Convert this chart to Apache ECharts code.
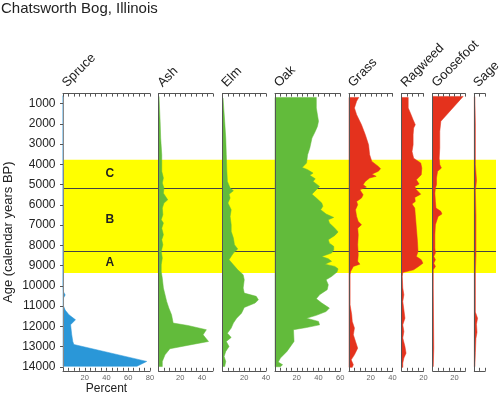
<!DOCTYPE html>
<html><head><meta charset="utf-8">
<script src="https://cdn.jsdelivr.net/npm/echarts@6/dist/echarts.min.js"></script>
<style>html,body{margin:0;padding:0;background:#fff}#c{width:500px;height:393px}</style>
</head><body><div id="c"></div>
<script>
// ---------- data ----------
const chartTitle = 'Chatsworth Bog, Illinois';
const yAxisName = 'Age (calendar years BP)';
const xAxisName = 'Percent';
const ageTicks = [1000,2000,3000,4000,5000,6000,7000,8000,9000,10000,11000,12000,13000,14000];
const ageMin = 500, ageMax = 14200;

const zoneLabels = ['C', 'B', 'A'];
const zoneTops = [3770, 5170, 8300];
const zoneBottoms = [5170, 8300, 9370];

const taxa = ['Spruce', 'Ash', 'Elm', 'Oak', 'Grass', 'Ragweed', 'Goosefoot', 'Sage'];
const taxonMax = [80, 50, 40, 60, 40, 20, 30, 10];

const spruceAges = [600, 10000, 10300, 10450, 10600, 11000, 11200, 11430, 11680, 11920, 12400, 12750, 12900, 13735, 13980];
const spruceValues = [0, 0, 0.5, 2, 0.5, 0.5, 2, 5.5, 11.5, 7, 8, 9, 10, 77, 68];

const ashAges = [640, 1870, 2700, 3520, 4340, 4670, 4920, 5170, 5420, 5750, 5910, 6160, 6490, 6730, 6900, 7150, 7480, 7720, 7970, 8300, 8630, 8960, 9290, 9620, 10110, 10770, 11100, 11430, 11840, 11960, 12170, 12420, 12750, 12910, 13110, 13410, 13740, 13990];
const ashValues = [0.5, 1.5, 2, 3, 3, 4.5, 3.5, 5, 4.5, 8.5, 5, 3.5, 4, 2.5, 4.5, 3, 4.5, 3, 4, 2.5, 3.5, 2.5, 2.5, 3.5, 4.5, 7.5, 9.5, 12, 13.5, 27, 44, 41, 46, 30, 10.5, 6, 3.5, 3.5];

const elmAges = [720, 1870, 2700, 3520, 4340, 4840, 5170, 5300, 5470, 5660, 5910, 6240, 6570, 6980, 7310, 7640, 7970, 8180, 8380, 8710, 8960, 9210, 9450, 9700, 10110, 10360, 10520, 10690, 10850, 11070, 11350, 11600, 11840, 12090, 12340, 12550, 12750, 13000, 13240, 13490, 13740, 13990];
const elmValues = [0.5, 2, 3, 3.5, 4, 4.5, 7, 10, 6, 7, 5, 8, 7, 8, 8, 10, 11, 14, 10, 6, 10, 14, 19, 20, 19, 20, 31, 33, 30, 20, 17.5, 13, 10, 8, 4.5, 8, 3.5, 6, 3, 1.5, 3, 2];

const oakAges = [690, 1210, 1870, 2120, 2370, 2700, 3190, 3520, 3930, 4150, 4260, 4430, 4540, 4710, 4840, 5090, 5250, 5470, 5660, 5910, 6070, 6240, 6450, 6620, 6730, 6900, 7150, 7340, 7510, 7720, 7890, 8050, 8220, 8380, 8550, 8660, 8790, 8930, 9040, 9160, 9320, 9540, 9700, 9950, 10190, 10440, 10640, 10850, 11100, 11270, 11460, 11600, 11760, 11930, 12060, 12170, 12750, 13240, 13570, 13770, 13900, 14000];
const oakValues = [38, 38, 40, 39, 37, 34, 32, 30, 29, 25, 30, 35, 32, 37, 35, 41, 38, 34, 38, 43, 44, 42, 47, 54, 49, 50, 55, 58, 55, 49, 50, 54, 54, 52, 43, 49, 52, 46, 55, 58, 57, 52, 47, 49, 48, 41, 38, 43, 50, 47, 38, 29, 40, 41, 29, 17, 17.5, 11, 5, 3, 7, 5];

const grassAges = [690, 880, 1210, 1540, 2040, 2530, 3030, 3520, 3850, 4100, 4210, 4340, 4480, 4590, 4670, 4840, 5000, 5120, 5250, 5500, 5660, 5830, 5990, 6240, 6570, 6820, 6980, 7150, 7480, 7970, 8460, 8790, 8930, 9040, 9290, 9450, 10110, 10940, 11430, 11760, 12090, 12420, 12750, 13080, 13410, 13660, 13900, 14030];
const grassValues = [9, 7, 5, 7, 11.5, 15, 18, 19, 21, 27, 29, 27, 21, 25, 19, 15, 13, 16, 10, 13, 11.5, 7, 8, 6, 7, 8.5, 11.5, 8, 8.5, 8, 8.5, 8, 10, 4, 1.5, 1, 1, 1, 2.5, 3, 5, 4, 6, 8, 5, 2, 4, 3];

const ragweedAges = [690, 1210, 1460, 1790, 2040, 2200, 2530, 3030, 3360, 3690, 3930, 4180, 4510, 4760, 4970, 5090, 5250, 5470, 5630, 5830, 5960, 6160, 6490, 7150, 7810, 8300, 8550, 8710, 8880, 9040, 9210, 9340, 9540, 10110, 10440, 10770, 11600, 11930, 12260, 12580, 13000, 13330, 13570, 13820, 14030];
const ragweedValues = [6, 6, 8, 10.5, 12.5, 11, 10.5, 10.5, 9.5, 11, 17.5, 18.5, 18, 13.5, 16, 12, 13.5, 17.5, 12, 12.5, 9.5, 12, 12.5, 13.5, 14.5, 15, 13.5, 18, 19.5, 15.5, 11, 1, 0.5, 1, 2, 1, 3, 1, 2, 1, 3, 4, 2, 1, 1];

const goosefootAges = [640, 1870, 2370, 3190, 3690, 4010, 4180, 4340, 4670, 5000, 5170, 5420, 5830, 6160, 6320, 6450, 6570, 6980, 7480, 8130, 8380, 8550, 8710, 8880, 9040, 9210, 10110, 13080, 13990];
const goosefootValues = [28, 7.5, 6.5, 6.5, 6, 6.5, 8, 4.5, 3.5, 3.5, 2.5, 2, 2.5, 3, 7.5, 8.5, 5, 2.5, 2, 2, 2.5, 1, 2.5, 1, 2.5, 0.5, 0.5, 1, 0.5];

const sageAges = [650, 2000, 4000, 4800, 5300, 6500, 8500, 9300, 10500, 11300, 11600, 11900, 12300, 12600, 13300, 14000];
const sageValues = [0.5, 1, 1, 2, 1, 1.5, 1.5, 1, 1, 1, 3, 2, 2.5, 1.5, 1, 0.5];

const taxonAges = [spruceAges, ashAges, elmAges, oakAges, grassAges, ragweedAges, goosefootAges, sageAges];
const taxonValues = [spruceValues, ashValues, elmValues, oakValues, grassValues, ragweedValues, goosefootValues, sageValues];

// ---------- layout & style ----------
const FONT = '"Liberation Sans", Arial, Helvetica, sans-serif';
const BLUE = '#2a97d8', GREEN = '#62bb3b', RED = '#e4321d', YELLOW = '#ffff00';
const taxonColors = [BLUE, GREEN, GREEN, GREEN, RED, RED, RED, RED];
const panelLefts = [63, 158.5, 222.5, 275, 349, 401.7, 432.7, 474.3];
const PX_PER_PCT = 1.0875;
const GRID_TOP = 93.6, GRID_H = 277.2;
const AXIS_COLOR = '#555';
const labelPct = 43;

const grids = [], xAxes = [], yAxes = [], series = [];

taxa.forEach((name, i) => {
  const w = taxonMax[i] * PX_PER_PCT;
  grids.push({ left: panelLefts[i], top: GRID_TOP, width: w, height: GRID_H, containLabel: false, outerBoundsMode: 'none' });
  const xBase = {
    gridIndex: i, type: 'value', min: 0, max: taxonMax[i], interval: 5, z: 3,
    axisLine: { show: true, lineStyle: { color: AXIS_COLOR, width: 1 } },
    axisTick: { show: true, inside: true, length: 3, lineStyle: { color: AXIS_COLOR, width: 1 } },
    splitLine: { show: false }
  };
  xAxes.push(Object.assign({}, xBase, {
    position: 'bottom',
    axisLabel: { show: true, fontSize: 7.5, color: '#666', margin: 3, fontFamily: FONT,
      formatter: v => (v > 0 && v % 20 === 0) ? String(v) : '' },
    name: i === 0 ? xAxisName : '', nameLocation: 'middle', nameGap: 12, nameMoveOverlap: false,
    nameTextStyle: { fontSize: 12, color: '#222', fontFamily: FONT }
  }));
  xAxes.push(Object.assign({}, xBase, { position: 'top', axisLabel: { show: false } }));
  yAxes.push({
    gridIndex: i, type: 'value', inverse: true, min: ageMin, max: ageMax, position: 'left', z: 3,
    axisLine: { show: true, lineStyle: { color: AXIS_COLOR, width: 1 } },
    axisTick: { show: false }, axisLabel: { show: false }, splitLine: { show: false }
  });
  const ages = taxonAges[i], vals = taxonValues[i], color = taxonColors[i];
  series.push({
    type: 'custom', xAxisIndex: 2 * i, yAxisIndex: i, z: 2,
    encode: { x: 0, y: 1 },
    data: ages.map((a, k) => [vals[k], a]),
    renderItem: (params, api) => {
      if (params.dataIndex !== 0) return null;
      const pts = [api.coord([0, ages[0]])];
      for (let k = 0; k < ages.length; k++) pts.push(api.coord([vals[k], ages[k]]));
      pts.push(api.coord([0, ages[ages.length - 1]]));
      return { type: 'polygon', shape: { points: pts }, style: { fill: color, stroke: color, lineWidth: 0.5 } };
    }
  });
});

// age axis (labels) on spruce grid
yAxes.push({
  gridIndex: 0, type: 'value', inverse: true, min: ageMin, max: ageMax, position: 'left', offset: 5.5, z: 3,
  axisLine: { show: true, lineStyle: { color: '#888', width: 1 } },
  axisTick: { show: true, length: 3, customValues: ageTicks, lineStyle: { color: '#555' } },
  axisLabel: { show: true, customValues: ageTicks, fontSize: 12, color: '#222', margin: 2, fontFamily: FONT,
    formatter: v => String(v) },
  splitLine: { show: false },
  name: yAxisName, nameLocation: 'middle', nameGap: 43,
  nameTextStyle: { fontSize: 13, color: '#222', fontFamily: FONT }
});
// right border line
yAxes.push({
  gridIndex: 7, type: 'value', inverse: true, min: ageMin, max: ageMax, position: 'right',
  offset: 496 - (panelLefts[7] + taxonMax[7] * PX_PER_PCT), z: 3,
  axisLine: { show: true, lineStyle: { color: AXIS_COLOR, width: 1 } },
  axisTick: { show: false }, axisLabel: { show: false }, splitLine: { show: false }
});

// band grid (full width)
const bandGrid = grids.length;
grids.push({ left: panelLefts[0], top: GRID_TOP, right: 4, height: GRID_H, containLabel: false, outerBoundsMode: 'none' });
xAxes.push({ gridIndex: bandGrid, type: 'value', min: 0, max: 1, show: false });
const bandY = yAxes.length;
yAxes.push({ gridIndex: bandGrid, type: 'value', inverse: true, min: ageMin, max: ageMax, show: false });
series.push({
  type: 'custom', xAxisIndex: xAxes.length - 1, yAxisIndex: bandY, z: 1,
  encode: { x: 0, y: 1 },
  data: zoneTops.map((t, i) => [0, t, zoneBottoms[i]]),
  renderItem: (params, api) => {
    const i = params.dataIndex;
    const cs = params.coordSys;
    const yT = api.coord([0, zoneTops[i]])[1];
    const yB = api.coord([0, zoneBottoms[i]])[1];
    const children = [{ type: 'rect', shape: { x: cs.x, y: yT, width: cs.width, height: yB - yT }, style: { fill: YELLOW } }];
    if (i > 0) children.push({ type: 'line', shape: { x1: cs.x, y1: Math.round(yT) + 0.5, x2: cs.x + cs.width, y2: Math.round(yT) + 0.5 }, style: { stroke: '#444', lineWidth: 1 } });
    return { type: 'group', children };
  }
});
// zone letters in spruce column
series.push({
  type: 'custom', xAxisIndex: 0, yAxisIndex: 0, z: 2,
  encode: { x: 0, y: 1 },
  data: zoneLabels.map((l, i) => [labelPct, (zoneTops[i] + zoneBottoms[i]) / 2]),
  renderItem: (params, api) => {
    const p = api.coord([api.value(0), api.value(1)]);
    return { type: 'text', x: p[0], y: p[1], style: { text: zoneLabels[params.dataIndex], fontSize: 12, fontWeight: 'bold', fontFamily: FONT, fill: '#222', align: 'center', verticalAlign: 'middle' } };
  }
});

const graphics = taxa.map((name, i) => ({
  type: 'text', x: panelLefts[i] + 6, y: GRID_TOP - 4, rotation: Math.PI / 4,
  style: { text: name, fontSize: 13, fontFamily: FONT, fill: '#222', align: 'left', verticalAlign: 'bottom' }
}));

const chart = echarts.init(document.getElementById('c'), null, { renderer: 'canvas' });
chart.setOption({
  animation: false,
  backgroundColor: '#fff',
  title: { text: chartTitle, left: 1, top: 1, padding: 0, textStyle: { fontSize: 15, fontWeight: 'normal', color: '#222', fontFamily: FONT } },
  grid: grids, xAxis: xAxes, yAxis: yAxes, series: series, graphic: graphics
});
</script></body></html>
